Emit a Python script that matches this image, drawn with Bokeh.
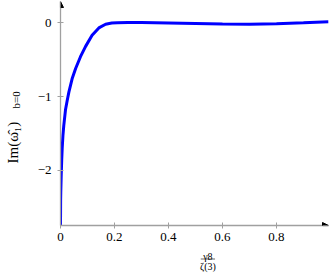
import math
from bokeh.plotting import figure
from bokeh.layouts import row, column
from bokeh.models import Label, Arrow, NormalHead, FixedTicker, Range1d
from bokeh.embed import file_html
from bokeh.resources import INLINE

# data
x_vals = [0.0, 0.0005, 0.001, 0.0026, 0.0045, 0.0063, 0.009, 0.0122, 0.0185, 0.025, 0.031,
          0.043, 0.056, 0.074, 0.093, 0.117, 0.142, 0.167, 0.19, 0.21, 0.25, 0.3, 0.4,
          0.5, 0.6, 0.7, 0.8, 0.9, 0.993]
y_vals = [-2.74, -2.4, -2.3, -2.07, -1.86, -1.70, -1.53, -1.39, -1.18, -1.05, -0.94,
          -0.76, -0.62, -0.46, -0.32, -0.17, -0.07, -0.02, -0.004, 0.0, 0.002, 0.002, -0.003,
          -0.01, -0.018, -0.02, -0.013, 0.0, 0.015]
x_ticks = [0, 0.2, 0.4, 0.6, 0.8]
x_tick_labels = ["0", "0.2", "0.4", "0.6", "0.8"]
y_ticks = [0, -1, -2]
y_tick_labels = ["0", "\u22121", "\u22122"]
y_label_main = "Im(\u03c9\u0302\u2081)"
y_label_sub = "b=0"
x_label_num = "\u03b38"
x_label_den = "\u03b6(3)"

FONT = "Liberation Serif"
AX = "#a0a0a0"

# geometry (window pixels)
W, H = 330, 275
YLAB_W = 30
MAIN_W = W - YLAB_W
MAIN_H = 249
XLAB_H = H - MAIN_H

X0, X1 = 0.0, 0.9926
Y0, Y1 = -2.747, 0.288

p = figure(width=MAIN_W, height=MAIN_H, output_backend="svg", toolbar_location=None,
           x_range=Range1d(X0, X1), y_range=Range1d(Y0, Y1),
           min_border_left=30, min_border_right=2, min_border_top=1, min_border_bottom=24)
p.outline_line_color = None
p.grid.visible = False
p.background_fill_color = "white"
p.border_fill_color = "white"

for ax in (p.xaxis[0], p.yaxis[0]):
    ax.axis_line_color = AX
    ax.axis_line_width = 1.3
    ax.major_tick_line_color = AX
    ax.major_tick_in = 3
    ax.major_tick_out = 3
    ax.minor_tick_line_color = None
    ax.major_label_text_font = FONT
    ax.major_label_text_font_size = "13px"
    ax.major_label_text_color = "black"

p.xaxis.ticker = FixedTicker(ticks=x_ticks)
p.xaxis.major_label_overrides = dict(zip(x_ticks, x_tick_labels))
p.xaxis.major_label_standoff = 4
p.yaxis.ticker = FixedTicker(ticks=y_ticks)
p.yaxis.major_label_overrides = dict(zip(y_ticks, y_tick_labels))
p.yaxis.major_label_standoff = 6

p.line(x_vals, y_vals, line_color="#0000ff", line_width=3)

# axis arrows
p.add_layout(Arrow(end=NormalHead(size=6, fill_color="black", line_color="black"),
                   x_start=X1 - 0.02, y_start=Y0, x_end=X1, y_end=Y0,
                   line_color=AX, line_width=1.3))
p.add_layout(Arrow(end=NormalHead(size=6, fill_color="black", line_color="black"),
                   x_start=X0, y_start=Y1 - 0.1, x_end=X0, y_end=Y1,
                   line_color=AX, line_width=1.3))

def blank(w, h):
    f = figure(width=w, height=h, output_backend="svg", toolbar_location=None,
               x_range=Range1d(0, w), y_range=Range1d(0, h),
               min_border=0, min_border_left=0, min_border_right=0,
               min_border_top=0, min_border_bottom=0)
    f.axis.visible = False
    f.grid.visible = False
    f.outline_line_color = None
    f.background_fill_color = "white"
    return f

# y label panel (pixel coordinates, y up)
ylab = blank(YLAB_W, H)
ylab.add_layout(Label(x=12, y=H - 163, text=y_label_main, angle=math.pi / 2,
                      text_font=FONT, text_font_size="15px", text_align="left",
                      text_baseline="alphabetic", text_color="black"))
ylab.add_layout(Label(x=15.5, y=H - 108, text=y_label_sub, angle=math.pi / 2,
                      text_font=FONT, text_font_size="11px", text_align="left",
                      text_baseline="alphabetic", text_color="black"))

# x label panel: fraction
xlab = blank(MAIN_W, XLAB_H)
cx = 195 - YLAB_W
def ly(wy):
    return XLAB_H - (wy - MAIN_H)
xlab.add_layout(Label(x=cx, y=ly(255.5), text=x_label_num, text_font=FONT,
                      text_font_size="10px", text_align="center", text_baseline="alphabetic",
                      text_color="black"))
xlab.add_layout(Label(x=cx, y=ly(266), text=x_label_den, text_font=FONT,
                      text_font_size="10px", text_align="center", text_baseline="alphabetic",
                      text_color="black"))
xlab.add_layout(Arrow(end=None, x_start=cx - 8, y_start=ly(258.5), x_end=cx + 8, y_end=ly(258.5),
                      line_color="black", line_width=0.6))

layout = row(ylab, column(p, xlab, spacing=0), spacing=0)
open("out.html", "w").write(file_html(layout, INLINE))
